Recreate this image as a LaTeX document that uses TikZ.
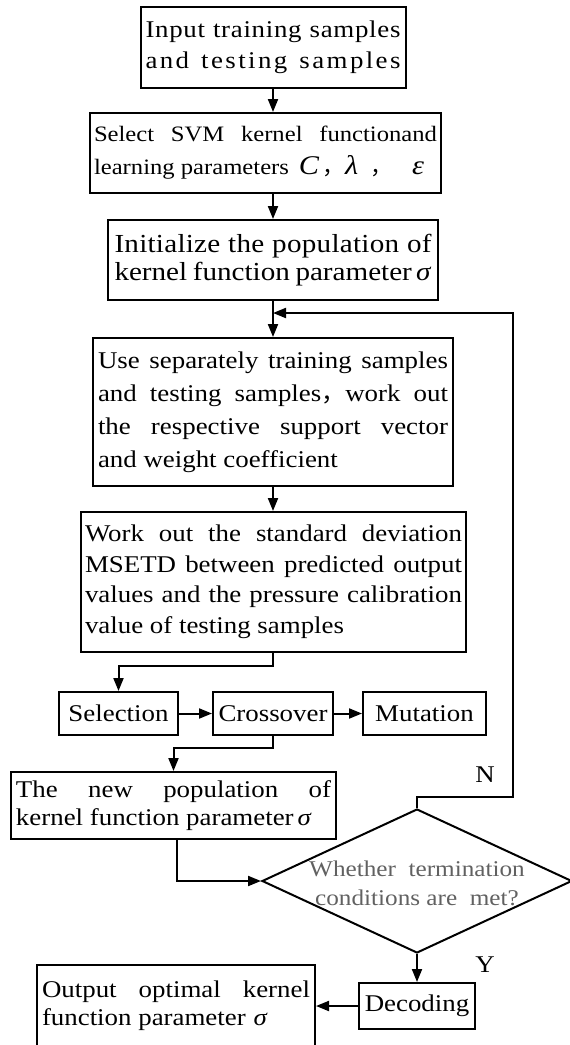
\documentclass[tikz,border=0pt]{standalone}
\usepackage{fontspec}
\setmainfont{Liberation Serif}[FakeStretch=1.12]
\newfontfamily\cjk{Noto Sans CJK SC}
\usetikzlibrary{arrows.meta,shapes.geometric}
\newcommand{\spread}[2]{\makebox[#1][s]{#2}}
\newcommand{\lsp}[1]{\addfontfeature{LetterSpace=#1}}
\newcommand{\fs}[2]{\fontsize{#1}{#2}\selectfont}
\begin{document}
\begin{tikzpicture}[x=1pt,y=-1pt,
  box/.style={draw,rectangle,line width=2pt,inner sep=3pt,align=left,font=\fs{24}{33}},
  arr/.style={line width=2pt,-{Triangle[length=13pt,width=10pt]}},
  lbl/.style={font=\fs{24}{28},inner sep=0pt}]
\useasboundingbox (0,0) rectangle (570,1045);
\clip (0,0) rectangle (570,1045);

\node[box,minimum width=265pt,minimum height=81pt,font=\fs{24}{31}] (b1) at (273,47.5)
  {\spread{255pt}{\lsp{3}Input training samples}\\\spread{255pt}{\lsp{10}and testing samples}};
\node[box,minimum width=351pt,minimum height=80pt,font=\fs{22}{33}] (b2) at (265.5,153)
  {\spread{343pt}{Select SVM kernel functionand}\\learning parameters\hspace{10pt}{\fs{27}{33}\itshape C}\hspace{3pt}{\cjk ，}\hspace{1pt}{\fs{27}{33}\itshape λ}\hspace{12pt}{\cjk ，}\hspace{20pt}{\fs{27}{33}\itshape ε}};
\node[box,minimum width=330pt,minimum height=80pt,font=\fs{26}{28.5}] (b3) at (273,260)
  {\spread{317pt}{\lsp{1}Initialize the population of}\\\spread{317pt}{kernel function parameter\,\textit{σ}}};
\node[box,minimum width=360pt,minimum height=148pt,inner xsep=5pt] (b4) at (273,412)
  {\spread{350pt}{Use separately training samples}\\\spread{350pt}{and testing samples{\cjk ，}work out}\\\spread{350pt}{the respective support vector}\\and weight coefficient};
\node[box,minimum width=385pt,minimum height=140pt,inner xsep=4pt,font=\fs{24}{30.5}] (b5) at (273.5,582)
  {\spread{377pt}{Work out the standard deviation}\\\spread{377pt}{MSETD between predicted output}\\\spread{377pt}{values and the pressure calibration}\\value of testing samples};
\node[box,minimum width=119pt,minimum height=43pt] (sel) at (118.5,713.5) {Selection};
\node[box,minimum width=120pt,minimum height=43pt] (cro) at (273,713.5) {Crossover};
\node[box,minimum width=123pt,minimum height=43pt] (mut) at (424.5,713.5) {Mutation};
\node[box,minimum width=325pt,minimum height=67pt,inner xsep=5pt,font=\fs{24}{28}] (np) at (173.5,805.5)
  {\spread{315pt}{The new population of}\\kernel function parameter\,\textit{σ}};
\node[draw,diamond,line width=2pt,minimum width=310pt,minimum height=144pt,inner sep=0pt] (dia) at (417,881) {};
\node[font=\fs{22.5}{29},text=black!62,align=center,inner sep=0pt] (diat) at (417,883)
  {Whether\ \ termination\\conditions are\ \ met?};
\node[box,minimum width=116pt,minimum height=46pt] (dec) at (417,1006) {Decoding};
\node[box,minimum width=278pt,minimum height=82pt,inner xsep=5pt,font=\fs{24}{28}] (out) at (176,1006)
  {\spread{268pt}{Output optimal kernel}\\function parameter\,\,\textit{σ}};
\node[lbl] (nl) at (485,775) {N};
\node[lbl] (yl) at (485,965) {Y};

\coordinate (fbr) at (513,313);
\coordinate (jn) at (273,313);

\draw[arr] (b1.south) -- (b1.south |- b2.north);
\draw[arr] (b2.south -| b1.south) -- (b3.north);
\draw[arr] (b3.south) -- (b4.north);
\draw[arr] (b4.south) -- (b4.south |- b5.north);
\draw[arr] (b5.south -| b4.south) -- ++(0,13) -| (sel.north);
\draw[arr] (sel) -- (cro);
\draw[arr] (cro) -- (mut);
\draw[arr] (cro.south) -- ++(0,12) -| (np.north);
\draw[arr] ([xshift=3.5pt]np.south) |- (dia.west);
\draw[arr] (dia.north) -- ++(0,-11) -| (fbr) -- (jn);
\draw[arr] (dia.south) -- (dec.north);
\draw[arr] (dec.west) -- (out.east);
\end{tikzpicture}
\end{document}
